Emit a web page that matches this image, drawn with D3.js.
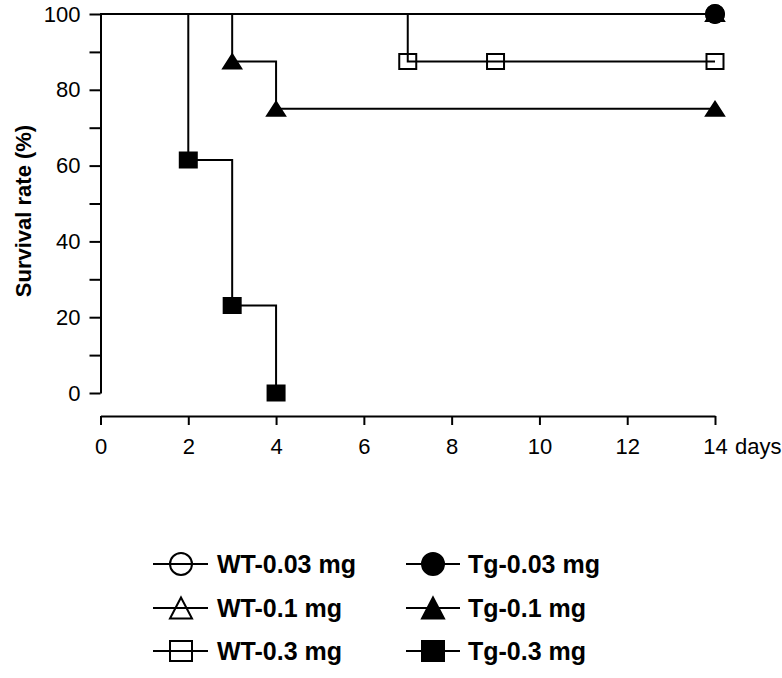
<!DOCTYPE html>
<html>
<head>
<meta charset="utf-8">
<script src="https://cdn.jsdelivr.net/npm/d3@7"></script>
<style>
  html, body { margin: 0; padding: 0; background: #fff; }
  svg { display: block; font-family: "Liberation Sans", Arial, Helvetica, sans-serif; }
</style>
</head>
<body>
<svg id="chart" width="782" height="678"></svg>
<script>
// ---- data ----
const seriesNames = ["WT-0.03 mg", "WT-0.1 mg", "WT-0.3 mg", "Tg-0.03 mg", "Tg-0.1 mg", "Tg-0.3 mg"];
const wt003Days = [14];          const wt003Values = [100];
const wt01Days  = [14];          const wt01Values  = [100];
const wt03Days  = [7, 9, 14];    const wt03Values  = [87.5, 87.5, 87.5];
const tg003Days = [14];          const tg003Values = [100];
const tg01Days  = [3, 4, 14];    const tg01Values  = [87.5, 75, 75];
const tg03Days  = [2, 3, 4];     const tg03Values  = [61.5, 23.1, 0];
const startDay = 0, startValue = 100;
const xTicks = [0, 2, 4, 6, 8, 10, 12, 14];
const yTicks = [0, 10, 20, 30, 40, 50, 60, 70, 80, 90, 100];
const yLabelTicks = [0, 20, 40, 60, 80, 100];

// ---- style ----
const shapes = ["circle", "triangle", "square", "circle", "triangle", "square"];
const filled = [false, false, false, true, true, true];

const seriesDays = [wt003Days, wt01Days, wt03Days, tg003Days, tg01Days, tg03Days];
const seriesValues = [wt003Values, wt01Values, wt03Values, tg003Values, tg01Values, tg03Values];

const svg = d3.select("#chart");
const x = d3.scaleLinear().domain([0, 14]).range([100.5, 715]);
const y = d3.scaleLinear().domain([0, 100]).range([393, 14]);

function markerPath(shape, w, h) {
  const p = d3.path();
  if (shape === "circle") {
    p.moveTo(w / 2, 0); p.arc(0, 0, w / 2, 0, Math.PI * 2);
  } else if (shape === "triangle") {
    p.moveTo(0, -h / 2); p.lineTo(w / 2, h / 2); p.lineTo(-w / 2, h / 2); p.closePath();
  } else {
    p.rect(-w / 2, -h / 2, w, h);
  }
  return p.toString();
}
const chartSize = { circle: [18, 18], triangle: [18, 14], square: [17, 15] };
const legendSize = { circle: [22, 22], triangle: [22, 21], square: [22, 20] };

// ---- axes ----
const yAxis = d3.axisLeft(y).tickValues(yTicks)
  .tickFormat(d => yLabelTicks.includes(d) ? d : "")
  .tickSize(11).tickSizeOuter(0).tickPadding(9);
const gy = svg.append("g").attr("transform", "translate(100.5,0)").call(yAxis);
gy.select(".domain").attr("stroke-width", 2);
gy.selectAll(".tick line").attr("stroke-width", 2);
gy.selectAll(".tick text").attr("font-size", 22).attr("font-family", null).attr("fill", "#000");

const xAxis = d3.axisBottom(x).tickValues(xTicks).tickSize(9).tickSizeOuter(0).tickPadding(13);
const gx = svg.append("g").attr("transform", "translate(0,416)").call(xAxis);
gx.select(".domain").attr("stroke-width", 2);
gx.selectAll(".tick line").attr("stroke-width", 2);
gx.selectAll(".tick text").attr("font-size", 22).attr("font-family", null).attr("fill", "#000");
svg.selectAll(".domain, .tick line").attr("stroke", "#000");

svg.append("text").attr("x", x(14) + 20).attr("y", 416 + 9 + 13).attr("dy", "0.71em")
  .attr("font-size", 22).text("days");

svg.append("text")
  .attr("transform", "translate(31,211) rotate(-90)")
  .attr("text-anchor", "middle").attr("font-size", 22).attr("font-weight", "bold")
  .text("Survival rate (%)");

// ---- step lines ----
const line = d3.line().x(d => x(d[0])).y(d => y(d[1])).curve(d3.curveStepAfter);
seriesDays.forEach((days, i) => {
  const pts = [[startDay, startValue]].concat(days.map((d, j) => [d, seriesValues[i][j]]));
  svg.append("path").attr("d", line(pts)).attr("fill", "none")
    .attr("stroke", "#000").attr("stroke-width", 2);
});

// ---- markers ----
seriesDays.forEach((days, i) => {
  const [w, h] = chartSize[shapes[i]];
  svg.append("g").selectAll("path").data(days.map((d, j) => [d, seriesValues[i][j]]))
    .join("path")
    .attr("transform", d => `translate(${x(d[0])},${y(d[1])})`)
    .attr("d", markerPath(shapes[i], w, h))
    .attr("fill", filled[i] ? "#000" : "none")
    .attr("stroke", "#000").attr("stroke-width", 2);
});

// ---- legend ----
const legendRows = [564, 608, 651];
const legendCols = [{ x1: 153, x2: 208, mx: 181, tx: 217 }, { x1: 406, x2: 460, mx: 433, tx: 468 }];
seriesNames.forEach((name, i) => {
  const col = legendCols[Math.floor(i / 3)];
  const cy = legendRows[i % 3];
  const g = svg.append("g");
  g.append("line").attr("x1", col.x1).attr("x2", col.x2).attr("y1", cy).attr("y2", cy)
    .attr("stroke", "#000").attr("stroke-width", 2);
  const [w, h] = legendSize[shapes[i]];
  g.append("path").attr("transform", `translate(${col.mx},${cy})`)
    .attr("d", markerPath(shapes[i], w, h))
    .attr("fill", filled[i] ? "#000" : "none")
    .attr("stroke", "#000").attr("stroke-width", 2);
  g.append("text").attr("x", col.tx).attr("y", cy + 9)
    .attr("font-size", 25).attr("font-weight", "bold").text(name);
});
</script>
</body>
</html>
